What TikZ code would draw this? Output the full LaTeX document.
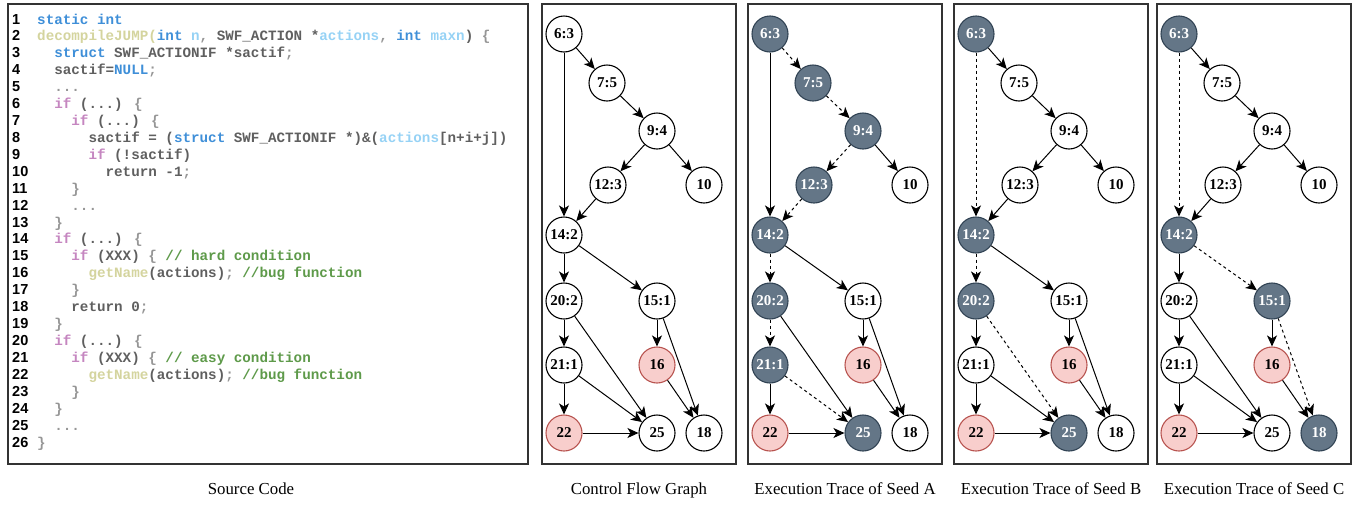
\documentclass[tikz,border=0pt]{standalone}
\usepackage{fontspec}
\setmainfont{Liberation Serif}
\newfontfamily\codefont{Liberation Mono}
\newfontfamily\lnfont{Liberation Sans}
\usetikzlibrary{arrows.meta}
\definecolor{kwc}{RGB}{63,143,216}
\definecolor{fnc}{RGB}{212,212,158}
\definecolor{vac}{RGB}{150,210,245}
\definecolor{ctc}{RGB}{197,134,192}
\definecolor{cmc}{RGB}{94,154,74}
\definecolor{plc}{RGB}{95,95,95}
\definecolor{puc}{RGB}{150,150,150}
\definecolor{slate}{RGB}{100,118,135}
\definecolor{slateb}{RGB}{49,67,84}
\definecolor{bugf}{RGB}{248,206,204}
\definecolor{bugb}{RGB}{184,84,80}
\definecolor{frame}{RGB}{51,51,51}
\newcommand\ckw[1]{\textcolor{kwc}{#1}}
\newcommand\cfn[1]{\textcolor{fnc}{#1}}
\newcommand\cva[1]{\textcolor{vac}{#1}}
\newcommand\cct[1]{\textcolor{ctc}{#1}}
\newcommand\ccm[1]{\textcolor{cmc}{#1}}
\newcommand\cpl[1]{\textcolor{plc}{#1}}
\newcommand\cpu[1]{\textcolor{puc}{#1}}
\tikzset{
  lnum/.style={anchor=base west, inner sep=0pt, text=black, font=\lnfont\bfseries\fontsize{14.5}{16}\selectfont},
  code/.style={anchor=base west, inner sep=0pt, text=plc, font=\codefont\bfseries\fontsize{14.25}{16}\selectfont},
  nd/.style={circle, draw=black, fill=white, text=black, minimum size=36pt, inner sep=0pt, line width=1.1pt, font=\bfseries\fontsize{15}{16}\selectfont},
  hot/.style={fill=slate, draw=slateb, text=white},
  bug/.style={fill=bugf, draw=bugb},
  ed/.style={-{Stealth[length=11pt,width=10pt,inset=3pt]}, line width=1pt, black},
  dsh/.style={dash pattern=on 3pt off 3pt},
  captext/.style={anchor=base, inner sep=0pt, font=\fontsize{16.8}{20}\selectfont},
  pframe/.style={draw=frame, line width=1.3pt},
  n63/.style={}, n75/.style={}, n94/.style={}, n123/.style={}, n10/.style={},
  n142/.style={}, n202/.style={}, n151/.style={}, n211/.style={}, n16/.style={bug},
  n22/.style={bug}, n25/.style={}, n18/.style={},
  e63-75/.style={}, e63-142/.style={}, e75-94/.style={}, e94-123/.style={}, e94-10/.style={},
  e123-142/.style={}, e142-202/.style={}, e142-151/.style={}, e202-211/.style={}, e202-25/.style={},
  e151-16/.style={}, e151-18/.style={}, e211-22/.style={}, e211-25/.style={}, e16-18/.style={}, e22-25/.style={}
}
\newcommand\srcline[3]{%
  \node[lnum] (ln#1) at (12,{24+(#1-1)*16.92}) {#1};
  \node[code] (src#1) at ({37+#2*8.55},{24+(#1-1)*16.92}) {#3};}
\newcommand\cfgpanel[2]{%
  \draw[pframe] (0,4) rectangle (194,464);
  \node[nd,n63] (#1-63) at (22,34) {6:3};
  \node[nd,n75] (#1-75) at (65,83) {7:5};
  \node[nd,n94] (#1-94) at (115,131) {9:4};
  \node[nd,n123] (#1-123) at (66,185) {12:3};
  \node[nd,n10] (#1-10) at (162,185) {10};
  \node[nd,n142] (#1-142) at (22,235) {14:2};
  \node[nd,n202] (#1-202) at (22,301) {20:2};
  \node[nd,n151] (#1-151) at (115,301) {15:1};
  \node[nd,n211] (#1-211) at (22,365) {21:1};
  \node[nd,n16] (#1-16) at (115,365) {16};
  \node[nd,n22] (#1-22) at (22,433) {22};
  \node[nd,n25] (#1-25) at (115,433) {25};
  \node[nd,n18] (#1-18) at (162,433) {18};
  \draw[ed,e63-75] (#1-63) -- (#1-75);
  \draw[ed,e63-142] (#1-63) -- (#1-142);
  \draw[ed,e75-94] (#1-75) -- (#1-94);
  \draw[ed,e94-123] (#1-94) -- (#1-123);
  \draw[ed,e94-10] (#1-94) -- (#1-10);
  \draw[ed,e123-142] (#1-123) -- (#1-142);
  \draw[ed,e142-202] (#1-142) -- (#1-202);
  \draw[ed,e142-151] (#1-142) -- (#1-151);
  \draw[ed,e202-211] (#1-202) -- (#1-211);
  \draw[ed,e202-25] (#1-202) -- (#1-25);
  \draw[ed,e151-16] (#1-151) -- (#1-16);
  \draw[ed,e151-18] (#1-151) -- (#1-18);
  \draw[ed,e211-22] (#1-211) -- (#1-22);
  \draw[ed,e211-25] (#1-211) -- (#1-25);
  \draw[ed,e16-18] (#1-16) -- (#1-18);
  \draw[ed,e22-25] (#1-22) -- (#1-25);
  \node[captext] (#1-cap) at (97,494) {#2};}
\begin{document}
\begin{tikzpicture}[x=1pt,y=-1pt]
\useasboundingbox (0,0) rectangle (1366,504);
% source code panel
\draw[pframe] (8,4) rectangle (528,464);
\srcline{1}{0}{\ckw{static int}}
\srcline{2}{0}{\cfn{decompileJUMP(}\ckw{int} \cva{n}\cpu{,} \cpl{SWF\_ACTION *}\cva{actions}\cpu{,} \ckw{int} \cva{maxn}\cpl{)} \cpu{\{}}
\srcline{3}{2}{\ckw{struct} \cpl{SWF\_ACTIONIF *sactif}\cpu{;}}
\srcline{4}{2}{\cpl{sactif=}\ckw{NULL}\cpu{;}}
\srcline{5}{2}{\cpu{...}}
\srcline{6}{2}{\cct{if} \cpl{(...)} \cpu{\{}}
\srcline{7}{4}{\cct{if} \cpl{(...)} \cpu{\{}}
\srcline{8}{6}{\cpl{sactif = (}\ckw{struct} \cpl{SWF\_ACTIONIF *)\&(}\cva{actions}\cpl{[n+i+j])}}
\srcline{9}{6}{\cct{if} \cpl{(!sactif)}}
\srcline{10}{8}{\cpl{return -1}\cpu{;}}
\srcline{11}{4}{\cpu{\}}}
\srcline{12}{4}{\cpu{...}}
\srcline{13}{2}{\cpu{\}}}
\srcline{14}{2}{\cct{if} \cpl{(...)} \cpu{\{}}
\srcline{15}{4}{\cct{if} \cpl{(XXX)} \cpu{\{} \ccm{// hard condition}}
\srcline{16}{6}{\cfn{getName}\cpl{(actions)}\cpu{;} \ccm{//bug function}}
\srcline{17}{4}{\cpu{\}}}
\srcline{18}{4}{\cpl{return 0}\cpu{;}}
\srcline{19}{2}{\cpu{\}}}
\srcline{20}{2}{\cct{if} \cpl{(...)} \cpu{\{}}
\srcline{21}{4}{\cct{if} \cpl{(XXX)} \cpu{\{} \ccm{// easy condition}}
\srcline{22}{6}{\cfn{getName}\cpl{(actions)}\cpu{;} \ccm{//bug function}}
\srcline{23}{4}{\cpu{\}}}
\srcline{24}{2}{\cpu{\}}}
\srcline{25}{2}{\cpu{...}}
\srcline{26}{0}{\cpu{\}}}
\node[captext] (srccap) at (251,494) {Source Code};
% control flow graph
\begin{scope}[xshift=542pt]
\cfgpanel{G}{Control Flow Graph}
\end{scope}
% seed A
\begin{scope}[xshift=748pt,
  n63/.style=hot, n75/.style=hot, n94/.style=hot, n123/.style=hot, n142/.style=hot,
  n202/.style=hot, n211/.style=hot, n25/.style=hot,
  e63-75/.style=dsh, e75-94/.style=dsh, e94-123/.style=dsh, e123-142/.style=dsh,
  e142-202/.style=dsh, e202-211/.style=dsh, e211-25/.style=dsh]
\cfgpanel{A}{Execution Trace of Seed A}
\end{scope}
% seed B
\begin{scope}[xshift=954pt,
  n63/.style=hot, n142/.style=hot, n202/.style=hot, n25/.style=hot,
  e63-142/.style=dsh, e142-202/.style=dsh, e202-25/.style=dsh]
\cfgpanel{B}{Execution Trace of Seed B}
\end{scope}
% seed C
\begin{scope}[xshift=1157pt,
  n63/.style=hot, n142/.style=hot, n151/.style=hot, n18/.style=hot,
  e63-142/.style=dsh, e142-151/.style=dsh, e151-18/.style=dsh]
\cfgpanel{C}{Execution Trace of Seed C}
\end{scope}
\end{tikzpicture}
\end{document}
